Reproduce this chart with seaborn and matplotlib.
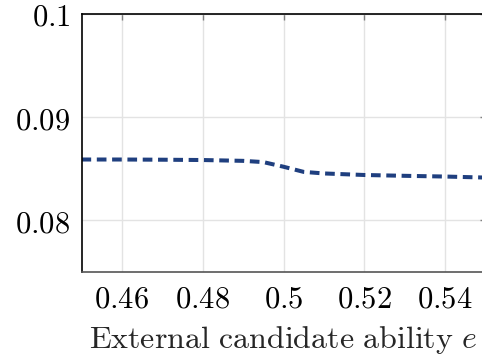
import matplotlib
matplotlib.use("Agg")
import matplotlib.pyplot as plt
import seaborn as sns
import pandas as pd

ability = [0.45, 0.46, 0.47, 0.48, 0.49, 0.495, 0.50, 0.505, 0.51, 0.52, 0.53, 0.54, 0.55]
value = [0.0859, 0.0859, 0.08588, 0.08585, 0.08577, 0.08565, 0.0852, 0.0847, 0.08455,
         0.0844, 0.08432, 0.08425, 0.08415]
xticks = [0.46, 0.48, 0.50, 0.52, 0.54]
xtick_labels = ["0.46", "0.48", "0.5", "0.52", "0.54"]
yticks = [0.08, 0.09, 0.10]
ytick_labels = ["0.08", "0.09", "0.1"]

sns.set_style("white")
plt.rcParams["mathtext.fontset"] = "cm"
plt.rcParams["font.family"] = ["DejaVu Serif"]

df = pd.DataFrame({"e": ability, "v": value})

fig = plt.figure(figsize=(4.82, 3.58), dpi=100)
ax = fig.add_axes([81.5 / 482, 86 / 358, 404 / 482, 258 / 358])

sns.lineplot(data=df, x="e", y="v", ax=ax, color="#1F3F7F", linewidth=2.9,
             dashes=False)
ax.lines[0].set_dashes([2.4, 1.4])

ax.set_xlim(0.45, 0.55)
ax.set_ylim(0.075, 0.1)
ax.set_xticks(xticks)
ax.set_xticklabels([f"${t}$" for t in xtick_labels])
ax.set_yticks(yticks)
ax.set_yticklabels([f"${t}$" for t in ytick_labels])

ax.grid(True, color="#e3e3e3", linewidth=1.0)
ax.set_axisbelow(True)
ax.tick_params(axis="both", direction="in", length=4, width=1, color="#808080",
               labelsize=22, pad=8, top=True, right=True, labelcolor="black")

for side in ["left", "top"]:
    ax.spines[side].set_color("black")
    ax.spines[side].set_linewidth(1.2)
ax.spines["bottom"].set_color("#555555")
ax.spines["bottom"].set_linewidth(1.2)
ax.spines["right"].set_color("black")

ax.set_xlabel(r"$\mathrm{External\ candidate\ ability}\ e$", fontsize=23, labelpad=7)
ax.set_ylabel("")

fig.savefig("out.png", dpi=100)
